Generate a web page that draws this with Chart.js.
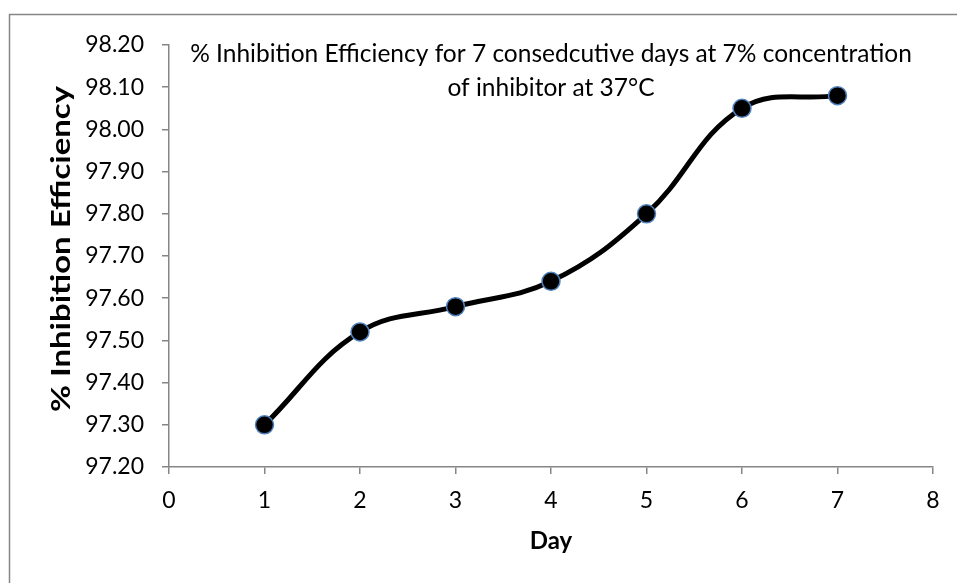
<!DOCTYPE html>
<html>
<head>
<meta charset="utf-8">
<script src="https://cdn.jsdelivr.net/npm/chart.js@4/dist/chart.umd.min.js"></script>
<style>
  body { margin: 0; background: #fff; }
  #wrap { width: 957px; height: 583px; position: relative; }
</style>
</head>
<body>
<div id="wrap"><canvas id="ieChart" width="957" height="583"></canvas></div>
<script>
// data
var days = [1, 2, 3, 4, 5, 6, 7];
var efficiency = [97.30, 97.52, 97.58, 97.64, 97.80, 98.05, 98.08];
var titleLines = ['% Inhibition Efficiency for 7 consedcutive days at 7% concentration', 'of inhibitor at 37°C'];
var yTitle = '% Inhibition Efficiency';

var axisGray = '#868686';
var fontFam = "Lato, 'Open Sans', sans-serif";

var points = days.map(function(d, i) { return { x: d, y: efficiency[i] }; });

// outer frame (only top/left visible in the picture), title inside plot, y axis title
var framePlugin = {
  id: 'frame',
  beforeDraw: function(chart) {
    var c = chart.ctx;
    c.save();
    c.strokeStyle = axisGray;
    c.lineWidth = 1.5;
    c.strokeRect(9.5, 14.5, 1000, 1000);
    c.restore();
  },
  afterDraw: function(chart) {
    var c = chart.ctx, a = chart.chartArea;
    c.save();
    c.fillStyle = '#000';
    c.font = '24.5px ' + fontFam;
    c.textAlign = 'center';
    c.textBaseline = 'middle';
    var cx = (a.left + a.right) / 2;
    c.fillText(titleLines[0], cx, 54);
    c.fillText(titleLines[1], cx, 88);

    // y title, widened a little to the reference length
    c.font = 'bold 26px ' + fontFam;
    var w = c.measureText(yTitle).width;
    var target = 326;
    c.translate(62, 249);
    c.rotate(-Math.PI / 2);
    c.scale(target / w, 1);
    c.fillText(yTitle, 0, 0);
    c.restore();
  }
};

var ctx = document.getElementById('ieChart');
var myChart = new Chart(ctx, {
  type: 'scatter',
  data: {
    datasets: [{
      data: points,
      showLine: true,
      tension: 0.4,
      borderColor: '#000',
      borderWidth: 5,
      pointBackgroundColor: '#000',
      pointBorderColor: '#4f81bd',
      pointBorderWidth: 1.5,
      pointRadius: 9,
      pointHoverRadius: 9
    }]
  },
  options: {
    responsive: false,
    animation: false,
    layout: { padding: { left: 10, top: 45, right: 24, bottom: 0 } },
    plugins: {
      legend: { display: false },
      tooltip: { enabled: false }
    },
    scales: {
      x: {
        type: 'linear',
        min: 0,
        max: 8,
        ticks: { stepSize: 1, color: '#000', font: { family: fontFam, size: 23 }, padding: 13 },
        grid: { drawOnChartArea: false, color: axisGray, tickLength: 7, lineWidth: 1.5 },
        border: { color: axisGray, width: 1.5 },
        title: { display: true, text: 'Day', color: '#000', font: { family: fontFam, size: 24, weight: 'bold' }, padding: { top: 4, bottom: 27 } },
        afterFit: function(s) { s.height = 116; }
      },
      y: {
        min: 97.2,
        max: 98.2,
        ticks: {
          stepSize: 0.1,
          color: '#000',
          font: { family: fontFam, size: 23 },
          padding: 18,
          callback: function(v) { return Number(v).toFixed(2); }
        },
        grid: { drawOnChartArea: false, color: axisGray, tickLength: 7, lineWidth: 1.5 },
        border: { color: axisGray, width: 1.5 },
        title: { display: false },
        afterFit: function(s) { s.width = 159; }
      }
    }
  },
  plugins: [framePlugin]
});
</script>
</body>
</html>
